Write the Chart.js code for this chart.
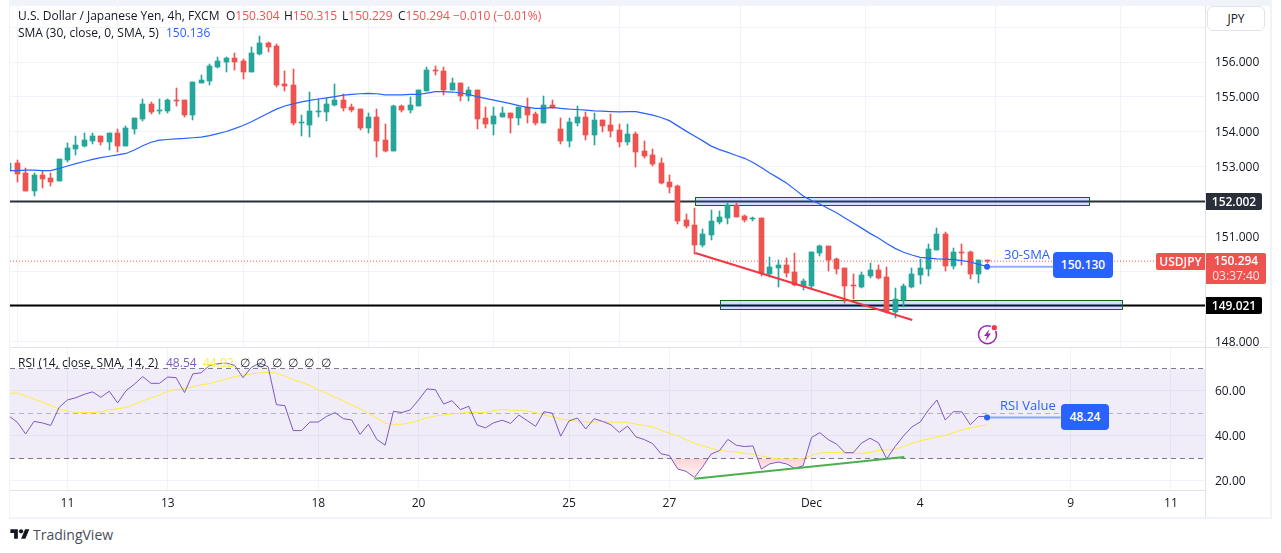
<!DOCTYPE html>
<html>
<head>
<meta charset="utf-8">
<title>USDJPY 4h</title>
<script src="https://cdn.jsdelivr.net/npm/chart.js@4"></script>
<style>
    html, body { margin: 0; padding: 0; background: #fff; width: 1281px; height: 553px; overflow: hidden; }
    body { font-family: "Open Sans", sans-serif; font-size: 12px; color: #131722; position: relative; }
    canvas { position: absolute; }
    .abs { position: absolute; white-space: nowrap; line-height: 16px; }
    .band { position: absolute; background: #f0f3fa; }
    .sep { position: absolute; background: #e0e3eb; }
    .tag { position: absolute; color: #fff; font-weight: 600; text-align: center; white-space: nowrap; }
    .red { color: #ef5350; }
</style>
</head>
<body>
<div class="band" style="left:9px;top:0;width:1263px;height:6px"></div>
<div class="band" style="left:9px;top:0;width:1px;height:519px"></div>
<div class="band" style="left:1270px;top:0;width:2px;height:519px"></div>
<div class="band" style="left:9px;top:517px;width:1263px;height:2px"></div>

<canvas id="chart_price" width="1260" height="341" style="left:10px;top:6px"></canvas>
<canvas id="chart_rsi" width="1260" height="169" style="left:10px;top:348px"></canvas>

<div class="sep" style="left:10px;top:347px;width:1260px;height:1px"></div>
<div class="sep" style="left:1205px;top:6px;width:1px;height:511px"></div>

<div class="abs" style="left:18px;top:8px">U.S. Dollar / Japanese Yen, 4h, FXCM</div>
<div class="abs" style="left:226px;top:8px">O<span class="red">150.304</span></div>
<div class="abs" style="left:284px;top:8px">H<span class="red">150.315</span></div>
<div class="abs" style="left:342px;top:8px">L<span class="red">150.229</span></div>
<div class="abs" style="left:398px;top:8px">C<span class="red">150.294</span></div>
<div class="abs red" style="left:453px;top:8px">−0.010 (−0.01%)</div>
<div class="abs" style="left:18px;top:25px">SMA (30, close, 0, SMA, 5)</div>
<div class="abs" style="left:166px;top:25px;color:#2962ff">150.136</div>

<div class="abs" style="left:1207px;top:6px;width:58px;height:25px;line-height:24px;border:1px solid #e0e3eb;border-radius:6px;box-sizing:border-box;text-align:center;background:#fff">JPY</div>

<div class="tag" style="left:1206px;top:193px;width:56px;height:17px;line-height:17px;background:#2a2e39;border-radius:0 2px 2px 0">152.002</div>
<div class="tag" style="left:1206px;top:297px;width:56px;height:17px;line-height:17px;background:#000;border-radius:0 2px 2px 0">149.021</div>
<div class="tag" style="left:1156px;top:253px;width:49px;height:17px;line-height:17px;background:#ef5350;border-radius:2px 0 0 2px">USDJPY</div>
<div class="tag" style="left:1206px;top:253px;width:60px;height:31px;line-height:15px;background:#ef5350;border-radius:0 2px 2px 0">150.294<br><span style="font-weight:400;opacity:.85">03:37:40</span></div>

<div class="abs" style="left:1004px;top:246px;color:#2962ff;font-size:13px">30-SMA</div>
<div class="tag" style="left:1053px;top:252px;width:60px;height:26px;line-height:26px;background:#2962ff;border-radius:4px">150.130</div>
<div class="abs" style="left:1000px;top:397px;color:#2962ff;font-size:13px">RSI Value</div>
<div class="tag" style="left:1061px;top:404px;width:48px;height:26px;line-height:26px;background:#2962ff;border-radius:4px">48.24</div>

<div class="abs" style="left:18px;top:355px">RSI (14, close, SMA, 14, 2)</div>
<div class="abs" style="left:166px;top:355px;color:#7e57c2">48.54</div>
<div class="abs" style="left:203px;top:355px;color:#ffeb3b">44.92</div>
<div class="abs" style="left:240px;top:355px;word-spacing:3px">∅ ∅ ∅ ∅ ∅ ∅</div>

<svg class="abs" style="left:976px;top:323px" width="24" height="24" viewBox="0 0 24 24">
    <circle cx="11.5" cy="11.7" r="9" fill="none" stroke="#9c27b0" stroke-width="1.5"/>
    <path d="M13.5 6 L8 13 L11 13 L9.5 18 L15 10.5 L12 10.5 Z" fill="#9c27b0"/>
    <circle cx="18.3" cy="4.7" r="3.4" fill="#fff"/>
    <circle cx="18.3" cy="4.7" r="2.6" fill="#f23645"/>
</svg>

<svg class="abs" style="left:10px;top:527px" width="20" height="15" viewBox="0 0 36 28">
    <path d="M14 22H7V11H0V4h14v18zM28 22h-8l7.5-18h8L28 22z" fill="#131722"/>
    <circle cx="20" cy="8" r="4" fill="#131722"/>
</svg>
<div class="abs" style="left:33px;top:527px;font-size:14px;color:#4a4e59">TradingView</div>

<script>
// bar numbers: 0 is the first full candle, -1 is the one cut off at the left edge
const firstBar = -1;

const candleOpen = [152.89,
    153.10,152.82,152.29,152.76,152.68,152.59,153.18,153.51,153.59,153.73,
    153.88,153.71,153.97,153.59,154.08,154.37,154.80,154.60,154.60,154.91,
    154.91,154.48,155.40,155.46,155.86,156.00,156.11,156.03,155.71,156.23,
    156.54,156.46,155.37,155.34,154.25,154.20,154.57,154.57,154.77,154.91,
    154.71,154.65,154.11,154.42,153.77,153.45,154.74,154.62,154.74,155.17,
    155.77,155.74,155.20,155.40,155.03,155.20,154.40,154.22,154.42,154.54,
    154.40,154.71,154.51,154.25,154.77,154.08,153.74,154.25,154.42,153.91,
    154.34,154.20,154.05,153.71,153.94,153.45,153.34,153.11,152.56,152.45,
    151.47,151.33,150.76,151.04,151.42,151.53,151.90,151.59,151.49,151.53,
    149.93,150.10,150.18,149.98,149.58,149.58,150.53,150.73,150.36,150.10,
    149.61,149.55,149.87,150.04,149.84,148.84,149.18,149.55,149.90,150.07,
    150.61,151.07,150.16,150.56,150.56,149.93,150.304];

const candleHigh = [153.10,
    153.19,152.95,152.82,152.87,152.82,153.22,153.67,153.88,153.97,153.97,
    153.88,153.97,154.08,154.16,154.40,154.94,154.85,154.94,154.94,155.26,
    154.91,155.43,155.63,155.94,156.14,156.14,156.26,156.09,156.43,156.74,
    156.57,156.52,155.74,155.80,154.48,155.14,154.94,154.97,155.37,155.08,
    154.80,154.65,154.54,154.65,154.22,154.77,154.77,155.00,155.20,155.86,
    155.89,155.86,155.54,155.40,155.28,155.20,154.71,154.71,154.71,154.54,
    154.71,154.97,154.57,155.03,154.91,154.40,154.40,154.74,154.57,154.54,
    154.34,154.51,154.22,154.22,153.99,153.74,153.51,153.25,152.76,152.48,
    151.65,151.82,151.22,151.76,151.73,151.96,151.96,151.62,151.56,151.53,
    150.41,150.33,150.38,150.53,149.78,150.56,150.76,150.73,150.38,150.10,
    149.93,149.98,150.24,150.18,150.13,149.53,149.64,150.10,150.36,150.79,
    151.24,151.13,150.67,150.79,150.59,150.33,150.315];

const candleLow = [152.89,
    152.56,152.29,152.17,152.40,152.46,152.59,153.14,153.34,153.57,153.66,
    153.62,153.48,153.42,153.59,153.94,154.31,154.51,154.51,154.54,154.74,
    154.42,154.34,155.40,155.34,155.83,155.71,155.77,155.51,155.71,156.20,
    156.29,155.28,155.17,154.20,153.88,153.85,154.42,154.31,154.74,154.60,
    154.57,154.05,153.97,153.28,153.42,153.45,154.57,154.54,154.74,155.17,
    155.63,155.05,155.20,154.88,154.88,154.08,154.11,153.91,154.42,153.97,
    154.20,154.25,154.20,154.25,154.68,153.65,153.56,154.17,153.77,153.62,
    153.99,153.85,153.56,153.62,152.99,153.25,153.02,152.50,152.25,151.36,
    151.24,150.50,150.70,150.90,151.36,151.36,151.56,151.42,151.44,149.87,
    149.84,149.55,149.84,149.58,149.47,149.50,150.44,150.01,149.93,149.10,
    149.21,149.53,149.81,149.78,148.81,148.67,148.98,149.53,149.64,149.87,
    150.61,150.01,150.07,150.18,149.78,149.67,150.229];

const candleClose = [153.10,
    152.80,152.29,152.76,152.65,152.56,153.22,153.53,153.62,153.77,153.88,
    153.71,153.97,153.59,154.11,154.40,154.80,154.57,154.62,154.91,154.88,
    154.48,155.43,155.48,155.89,156.03,156.11,156.00,155.71,156.26,156.54,
    156.43,155.34,155.31,154.25,154.28,154.60,154.60,154.80,154.91,154.68,
    154.62,154.11,154.42,153.74,153.45,154.74,154.62,154.77,155.20,155.77,
    155.75,155.20,155.40,155.03,155.20,154.37,154.22,154.45,154.54,154.40,
    154.71,154.48,154.25,154.77,154.68,153.74,154.28,154.42,153.91,154.34,
    154.17,154.02,153.71,153.94,153.42,153.31,153.08,152.53,152.42,151.44,
    151.30,150.76,151.07,151.44,151.56,151.90,151.56,151.47,151.51,149.95,
    150.13,150.18,149.95,149.61,149.73,150.56,150.73,150.33,150.07,149.58,
    149.59,149.90,150.04,149.81,148.84,149.21,149.58,149.93,150.10,150.64,
    151.07,150.16,150.56,150.54,149.93,150.33,150.294];

const smaValues = [152.89,
    152.89,152.90,152.90,152.89,152.89,152.95,153.02,153.09,153.15,153.21,
    153.26,153.30,153.34,153.38,153.48,153.60,153.70,153.76,153.78,153.80,
    153.81,153.83,153.85,153.89,153.95,154.01,154.09,154.18,154.29,154.41,
    154.53,154.65,154.74,154.80,154.86,154.90,154.94,154.97,155.01,155.05,
    155.07,155.09,155.10,155.09,155.06,155.06,155.06,155.07,155.07,155.11,
    155.15,155.15,155.14,155.12,155.07,155.01,154.96,154.91,154.86,154.81,
    154.75,154.70,154.67,154.67,154.70,154.67,154.65,154.64,154.62,154.60,
    154.59,154.58,154.57,154.58,154.58,154.53,154.48,154.41,154.32,154.17,
    154.02,153.88,153.74,153.59,153.49,153.41,153.32,153.24,153.12,152.98,
    152.82,152.68,152.53,152.35,152.16,152.03,151.93,151.80,151.68,151.53,
    151.39,151.24,151.09,150.96,150.80,150.66,150.55,150.47,150.40,150.38,
    150.36,150.35,150.34,150.31,150.27,150.20,150.14];

const rsiValues = [48.9,
    46.1,40.9,46.5,45.8,44.7,52.7,56.0,57.0,58.5,59.6,
    57.2,59.9,54.7,60.1,63.0,66.4,63.4,63.4,66.2,65.9,
    59.3,67.6,68.1,71.4,72.1,72.4,71.4,65.9,70.5,72.4,
    70.8,53.9,53.5,42.4,42.4,46.2,46.2,48.7,50.4,47.7,
    47.1,40.7,45.2,38.5,35.9,51.0,50.4,51.6,56.0,60.9,
    60.6,54.2,55.7,51.7,53.2,44.9,43.6,45.9,47.0,45.6,
    49.3,46.8,44.3,50.8,50.1,39.9,46.7,48.0,43.1,47.7,
    46.5,45.0,41.6,44.4,39.6,38.4,36.6,32.1,31.3,25.3,
    24.3,21.6,26.4,32.0,33.5,38.5,35.9,35.3,35.6,25.3,
    27.6,28.4,27.6,25.6,26.8,39.3,41.5,38.4,36.4,32.6,
    32.6,36.9,39.0,37.0,29.9,35.3,40.0,44.0,46.2,51.6,
    56.0,47.1,50.8,50.7,45.0,48.7,48.6];

const rsiSmaValues = [59.0,
    59.1,57.9,56.4,55.0,53.5,52.0,51.1,50.5,50.4,50.4,
    50.7,51.7,52.1,52.7,54.1,55.6,56.9,58.2,59.9,60.7,
    61.0,61.9,62.7,63.3,64.3,65.3,66.4,67.0,67.6,68.0,
    68.4,67.9,66.7,64.9,63.9,62.4,60.6,59.0,57.2,55.6,
    53.8,52.1,50.1,47.9,45.6,45.2,45.2,45.9,46.8,48.1,
    48.9,49.3,49.8,50.1,50.5,50.5,50.4,51.3,51.9,51.4,
    51.4,51.1,50.4,49.3,48.6,47.6,47.0,46.5,46.2,46.2,
    46.5,46.2,46.1,46.1,45.3,44.7,44.1,42.5,41.2,40.0,
    38.4,36.7,35.6,34.5,33.6,33.2,32.9,32.3,31.9,31.1,
    30.4,29.9,29.8,29.8,29.9,31.4,32.4,32.7,32.7,32.4,
    32.3,32.3,32.7,33.6,33.8,34.2,35.3,36.7,37.8,38.7,
    39.6,40.3,41.5,42.7,43.6,44.3,45.0];

const timeTickBars = [6, 18, 36, 48, 66, 78, 95, 108, 126, 138];
const timeTickLabels = ['11', '13', '18', '20', '25', '27', 'Dec', '4', '9', '11'];

const priceTicks = [148, 149, 150, 151, 152, 153, 154, 155, 156, 157];
const priceTickLabels = ['148.000', '', '', '151.000', '', '153.000', '154.000', '155.000', '156.000', ''];
const rsiTicks = [20, 40, 60];
const rsiTickLabels = ['20.00', '40.00', '60.00'];

const supportLine = 149.021;
const resistanceLine = 152.002;
const lastPrice = 150.294;
const smaNote = 150.13;
const smaNoteBars = [116, 123.9];
const rsiNote = 48.24;
const rsiNoteBars = [116, 124.8];
const trendBars = [81.1, 107.06];
const trendPrices = [150.527, 148.607];
const rsiTrendBars = [80.98, 106.1];
const rsiTrendValues = [21, 30.7];
const zoneBars = [[81.1, 128.15], [84.1, 132.1]];
const zonePrices = [[152.12, 151.895], [149.17, 148.915]];

const xMin = -0.873;
const xMax = 142.07;
const upColor = "#26a69a";
const downColor = "#ef5350";
const gridColor = "#f0f3fa";
const fontFamily = '"Open Sans", sans-serif';

Chart.defaults.font.family = fontFamily;
Chart.defaults.font.size = 12;
Chart.defaults.color = "#131722";

function barNumbers() {
    return candleClose.map((c, i) => firstBar + i);
}

function series(values) {
    let bars = barNumbers();
    return values.map((v, i) => ({ x: bars[i], y: v }));
}

function flatLine(value, from, to) {
    return [{ x: from, y: value }, { x: to, y: value }];
}

function twoPoints(bars, values) {
    return [{ x: bars[0], y: values[0] }, { x: bars[1], y: values[1] }];
}

// tick labels must not push the plot area in from the canvas edges
function noScalePadding(scale) {
    scale.paddingTop = 0;
    scale.paddingBottom = 0;
    scale.paddingLeft = 0;
    scale.paddingRight = 0;
}

// snap the candles to whole pixels, otherwise the 1px wicks go pale
const snapBars = {
    id: "snapBars",
    afterDatasetsUpdate(chart) {
        chart.getSortedVisibleDatasetMetas().forEach(meta => {
            if (meta.type !== "bar") return;
            meta.data.forEach(el => {
                el.x = Math.round(el.x - 0.5) + 0.5;
                el.y = Math.round(el.y);
                el.base = Math.round(el.base);
            });
        });
    }
};

// the two blue boxes go above the black lines but under the candles
const drawZones = {
    id: "drawZones",
    beforeDatasetDraw(chart, args) {
        if (chart.data.datasets[args.index].label !== "wicks") return;
        let ctx = chart.ctx;
        zoneBars.forEach((bars, i) => {
            let left = Math.round(chart.scales.x.getPixelForValue(bars[0])) + 0.5;
            let right = Math.round(chart.scales.x.getPixelForValue(bars[1])) + 0.5;
            let top = Math.round(chart.scales.y.getPixelForValue(zonePrices[i][0])) + 0.5;
            let bottom = Math.round(chart.scales.y.getPixelForValue(zonePrices[i][1])) + 0.5;
            ctx.save();
            ctx.fillStyle = "rgba(41,98,255,0.2)";
            ctx.strokeStyle = "#1b5e20";
            ctx.lineWidth = 1;
            ctx.fillRect(left, top, right - left, bottom - top);
            ctx.strokeRect(left, top, right - left, bottom - top);
            ctx.restore();
        });
    }
};

function sharedXScale(showLabels) {
    return {
        type: "linear",
        offset: false,
        min: xMin,
        max: xMax,
        afterBuildTicks: scale => { scale.ticks = timeTickBars.map(v => ({ value: v })); },
        afterFit: scale => {
            if (showLabels) scale.height = 27;
            noScalePadding(scale);
        },
        grid: { color: gridColor, drawTicks: false },
        border: { display: showLabels, color: "#e0e3eb" },
        ticks: {
            display: showLabels,
            autoSkip: false,
            maxRotation: 0,
            padding: 6,
            callback: (value) => timeTickLabels[timeTickBars.indexOf(value)]
        }
    };
}

function sharedYScale(min, max, tickValues, tickLabels) {
    return {
        position: "right",
        min: min,
        max: max,
        afterBuildTicks: scale => { scale.ticks = tickValues.map(v => ({ value: v })); },
        afterFit: scale => {
            scale.width = 65;
            noScalePadding(scale);
        },
        grid: { color: gridColor, drawTicks: false },
        border: { display: false },
        ticks: {
            autoSkip: false,
            padding: 10,
            labelOffset: 1,
            callback: (value) => tickLabels[tickValues.indexOf(value)]
        }
    };
}

function baseOptions(xScale, yScale) {
    return {
        responsive: false,
        animation: false,
        layout: { padding: 0, autoPadding: false },
        plugins: { legend: { display: false }, tooltip: { enabled: false } },
        scales: { x: xScale, y: yScale }
    };
}

function renderPriceChart() {
    let ctx = document.getElementById("chart_price").getContext("2d");
    let bars = barNumbers();
    let colors = candleClose.map((c, i) => c >= candleOpen[i] ? upColor : downColor);

    new Chart(ctx, {
        type: "bar",
        data: {
            datasets: [
                {
                    type: "line", label: "resistance", order: 7,
                    data: flatLine(resistanceLine, xMin, xMax),
                    borderColor: "#2a2e39", borderWidth: 2, pointRadius: 0
                },
                {
                    type: "line", label: "support", order: 7,
                    data: flatLine(supportLine, xMin, xMax),
                    borderColor: "#000000", borderWidth: 2, pointRadius: 0
                },
                {
                    type: "line", label: "last price", order: 6,
                    data: flatLine(lastPrice, xMin, xMax),
                    borderColor: downColor, borderWidth: 1, borderDash: [1, 2], pointRadius: 0
                },
                {
                    label: "wicks", order: 5, grouped: false,
                    data: bars.map((b, i) => ({ x: b, y: [candleLow[i], candleHigh[i]] })),
                    backgroundColor: colors, barThickness: 1, borderSkipped: false
                },
                {
                    label: "bodies", order: 4, grouped: false,
                    data: bars.map((b, i) => ({ x: b, y: [candleOpen[i], candleClose[i]] })),
                    backgroundColor: colors, barThickness: 5, borderSkipped: false, minBarLength: 1
                },
                {
                    type: "line", label: "SMA 30", order: 3,
                    data: series(smaValues),
                    borderColor: "#2962ff", borderWidth: 1.2, pointRadius: 0
                },
                {
                    type: "line", label: "30-SMA note", order: 2,
                    data: flatLine(smaNote, smaNoteBars[0], smaNoteBars[1]),
                    borderColor: "rgba(41,98,255,0.5)", borderWidth: 2,
                    pointBackgroundColor: "#2962ff", pointBorderWidth: 0,
                    pointRadius: c => c.dataIndex === 0 ? 3 : 0
                },
                {
                    type: "line", label: "falling trend", order: 1,
                    data: twoPoints(trendBars, trendPrices),
                    borderColor: "#f23645", borderWidth: 2, pointRadius: 0
                }
            ]
        },
        options: baseOptions(sharedXScale(false), sharedYScale(147.834, 157.605, priceTicks, priceTickLabels)),
        plugins: [snapBars, drawZones]
    });
}

function renderRsiChart() {
    let canvas = document.getElementById("chart_rsi");
    let ctx = canvas.getContext("2d");

    let oversold = ctx.createLinearGradient(0, 110, 0, 134);
    oversold.addColorStop(0, "rgba(242,54,69,0.22)");
    oversold.addColorStop(1, "rgba(242,54,69,0.02)");

    let bandStyle = { type: "line", pointRadius: 0, borderWidth: 1, borderColor: "#787b86", borderDash: [5, 4] };

    new Chart(ctx, {
        type: "line",
        data: {
            datasets: [
                Object.assign({}, bandStyle, {
                    label: "upper band", order: 9,
                    data: flatLine(70, xMin, xMax),
                    fill: { value: 30 }, backgroundColor: "rgba(126,87,194,0.11)"
                }),
                Object.assign({}, bandStyle, {
                    label: "lower band", order: 9,
                    data: flatLine(30, xMin, xMax)
                }),
                Object.assign({}, bandStyle, {
                    label: "middle band", order: 9,
                    data: flatLine(50, xMin, xMax),
                    borderColor: "rgba(120,123,134,0.5)"
                }),
                {
                    label: "oversold fill", order: 8,
                    data: series(rsiValues),
                    borderWidth: 0, pointRadius: 0,
                    fill: { target: { value: 30 }, above: "transparent", below: oversold }
                },
                {
                    label: "overbought fill", order: 8,
                    data: series(rsiValues),
                    borderWidth: 0, pointRadius: 0,
                    fill: { target: { value: 70 }, above: "rgba(76,175,80,0.1)", below: "transparent" }
                },
                {
                    label: "RSI SMA", order: 5,
                    data: series(rsiSmaValues),
                    borderColor: "#ffeb3b", borderWidth: 1, pointRadius: 0
                },
                {
                    label: "RSI", order: 4,
                    data: series(rsiValues),
                    borderColor: "#7e57c2", borderWidth: 1, pointRadius: 0
                },
                {
                    label: "RSI note", order: 3,
                    data: flatLine(rsiNote, rsiNoteBars[0], rsiNoteBars[1]),
                    borderColor: "rgba(41,98,255,0.5)", borderWidth: 2,
                    pointBackgroundColor: "#2962ff", pointBorderWidth: 0,
                    pointRadius: c => c.dataIndex === 0 ? 3 : 0
                },
                {
                    label: "rising trend", order: 2,
                    data: twoPoints(rsiTrendBars, rsiTrendValues),
                    borderColor: "#4caf50", borderWidth: 2, pointRadius: 0
                }
            ]
        },
        options: baseOptions(sharedXScale(true), sharedYScale(16, 79.1, rsiTicks, rsiTickLabels))
    });
}

renderPriceChart();
renderRsiChart();
</script>
</body>
</html>
